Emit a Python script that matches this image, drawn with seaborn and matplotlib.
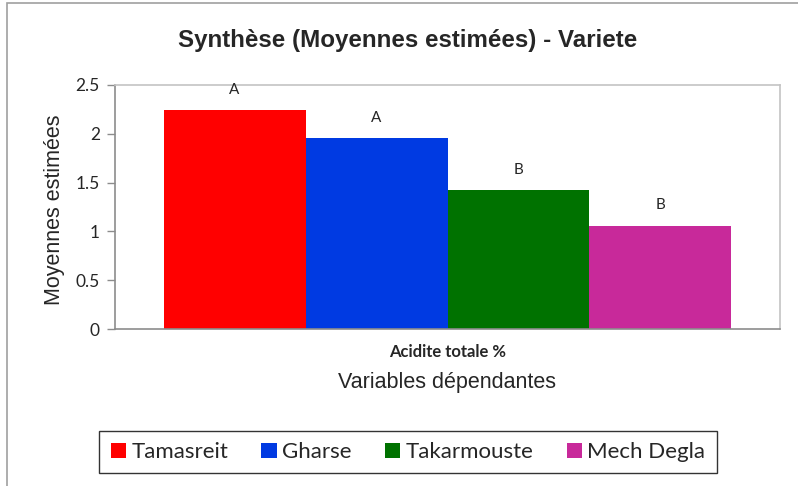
import matplotlib
matplotlib.use("Agg")
import matplotlib.pyplot as plt
import seaborn as sns
import pandas as pd
from matplotlib.patches import Rectangle, Patch

# Data
categories = ["Acidite totale %"]
varietes = ["Tamasreit", "Gharse", "Takarmouste", "Mech Degla"]
moyennes = [2.245, 1.955, 1.425, 1.06]
groupes = ["A", "A", "B", "B"]
couleurs = ["#FF0000", "#003AE2", "#007200", "#C8299A"]
yticks = [0, 0.5, 1, 1.5, 2, 2.5]
ytick_labels = ["0", "0.5", "1", "1.5", "2", "2.5"]

df = pd.DataFrame({
    "Variable": categories * len(varietes),
    "Variete": varietes,
    "Moyenne": moyennes,
})

sns.set_style("white")
plt.rcParams["font.family"] = ["Liberation Sans", "DejaVu Sans"]

fig = plt.figure(figsize=(7.98, 4.86), dpi=100)
ax = fig.add_axes([115/798, 1-329/486, (780-115)/798, (329-85)/486])

sns.barplot(data=df, x="Variable", y="Moyenne", hue="Variete",
            hue_order=varietes, palette=couleurs, width=0.854, gap=0,
            saturation=1, ax=ax, legend=False, linewidth=0)

ax.set_xlim(-0.5, 0.5)
ax.set_ylim(0, 2.5)
ax.set_yticks(yticks)
ax.set_yticklabels(ytick_labels, fontfamily="Lato", fontsize=12.5)
ax.set_xticks([0])
ax.set_xticklabels(categories, fontfamily="Lato", fontweight="bold", fontsize=12)
ax.set_xticks([-0.5, 0.5], minor=True)
ax.tick_params(axis="x", which="major", length=0, pad=11)
ax.tick_params(axis="x", which="minor", length=6, width=1, color="#8c8c8c", direction="out")
ax.tick_params(axis="y", length=6, width=1, color="#8c8c8c", direction="out", left=True, pad=5)

for s in ["left", "bottom"]:
    ax.spines[s].set_color("#8c8c8c")
    ax.spines[s].set_linewidth(1.2)
for s in ["top", "right"]:
    ax.spines[s].set_color("#c4c4c4")
    ax.spines[s].set_linewidth(1.2)

ax.set_ylabel("Moyennes estimées", fontsize=15.5)
ax.yaxis.set_label_coords((65-115)/665, (329-210)/244)
ax.set_xlabel("Variables dépendantes", fontsize=15.5)
ax.xaxis.set_label_coords(0.5, (329-372)/244)

# Letters above bars
for cont, lettre in zip(ax.containers, groupes):
    for bar in cont:
        ax.annotate(lettre, (bar.get_x() + bar.get_width()/2, bar.get_height()),
                    xytext=(0, 14.5), textcoords="offset points",
                    ha="center", va="center", fontsize=11, fontfamily="Lato")

fig.text(408/798, 1-47/486, "Synthèse (Moyennes estimées) - Variete",
         ha="center", va="baseline", fontsize=17.4, fontweight="bold")

handles = [Patch(facecolor=c, edgecolor="none") for c in couleurs]
leg = fig.legend(handles, varietes, loc="center", bbox_to_anchor=(408/798, 1-452/486),
                 ncol=4, frameon=True, fancybox=False,
                 prop={"family": "Lato", "size": 16},
                 handlelength=0.68, handleheight=0.68, handletextpad=0.25,
                 columnspacing=1.5, borderpad=0.5, borderaxespad=0)
leg.get_frame().set_edgecolor("black")
leg.get_frame().set_linewidth(1.0)

# Figure border (left and top visible)
fig.patches.append(Rectangle((7/798, -0.1), 1.1, 1.1 - 3/486, transform=fig.transFigure,
                             fill=False, edgecolor="#a0a0a0", linewidth=1.2))

fig.savefig("out.png", dpi=100)
